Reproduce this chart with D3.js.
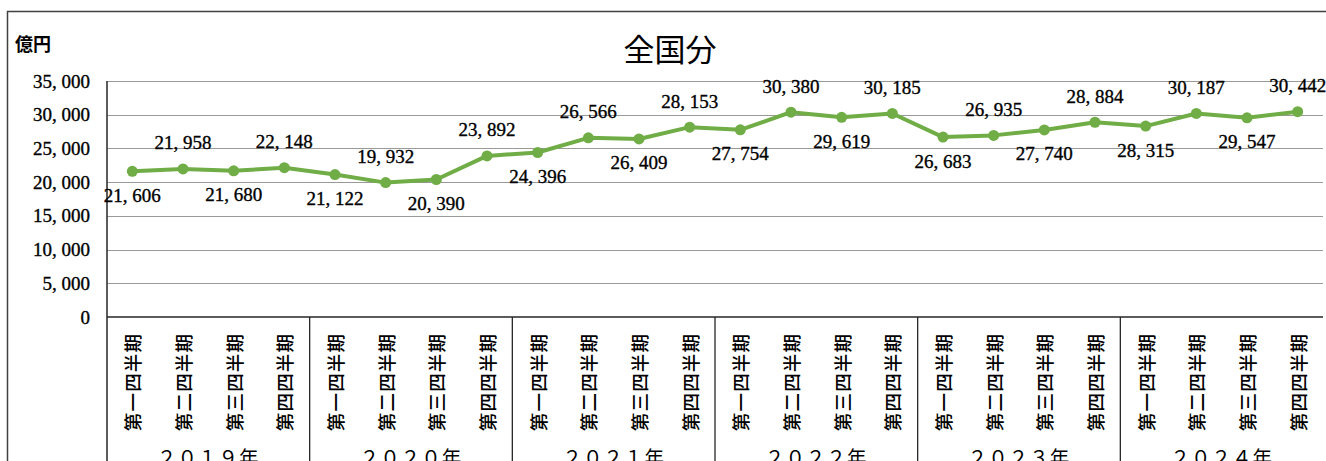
<!DOCTYPE html>
<html lang="ja">
<head>
<meta charset="utf-8">
<title>全国分</title>
<script src="https://d3js.org/d3.v7.min.js"></script>
<style>
  html, body { margin: 0; padding: 0; background: #fff; }
  svg { display: block; }
  .num { font-family: "Liberation Serif", "DejaVu Serif", serif; font-size: 19px; fill: #000; stroke: #000; stroke-width: 0.35px; }
  .jp { font-family: "Noto Sans CJK JP", sans-serif; fill: #000; }
</style>
</head>
<body>
<script>
// data
const years = ["２０１９年", "２０２０年", "２０２１年", "２０２２年", "２０２３年", "２０２４年"];
const quarters = ["第一四半期", "第二四半期", "第三四半期", "第四四半期"];
const values = [21606, 21958, 21680, 22148,
                21122, 19932, 20390, 23892,
                24396, 26566, 26409, 28153,
                27754, 30380, 29619, 30185,
                26683, 26935, 27740, 28884,
                28315, 30187, 29547, 30442];
const yTicks = [0, 5000, 10000, 15000, 20000, 25000, 30000, 35000];

const W = 1326, H = 461;
const plotL = 107, plotR = 1323, plotT = 81, plotB = 317;
const green = "#70ad47";

const svg = d3.select("body").append("svg").attr("width", W).attr("height", H);

// outer chart border
svg.append("rect")
  .attr("x", 7.5).attr("y", 11.5)
  .attr("width", W + 10).attr("height", H + 10)
  .attr("fill", "none").attr("stroke", "#404040").attr("stroke-width", 1.5);

const keys = values.map((d, i) => i);
const x = d3.scaleBand().domain(keys).range([plotL, plotR]).padding(0);
const y = d3.scaleLinear().domain([0, 35000]).range([plotB, plotT]);
const fmt = v => d3.format(",")(v).replace(",", ", ");

// gridlines
svg.append("g").selectAll("line")
  .data(yTicks.filter(t => t > 0))
  .join("line")
  .attr("x1", plotL).attr("x2", plotR)
  .attr("y1", d => Math.round(y(d)) + 0.5).attr("y2", d => Math.round(y(d)) + 0.5)
  .attr("stroke", "#999999").attr("stroke-width", 1.2);

// y tick labels
svg.append("g").selectAll("text")
  .data(yTicks)
  .join("text")
  .attr("class", "num")
  .attr("x", 90).attr("y", d => y(d))
  .attr("text-anchor", "end").attr("dominant-baseline", "central")
  .text(d => d === 0 ? "0" : fmt(d));

// axes lines
svg.append("line")
  .attr("x1", plotL).attr("x2", plotR)
  .attr("y1", plotB).attr("y2", plotB)
  .attr("stroke", "#262626").attr("stroke-width", 1.5);
svg.append("line")
  .attr("x1", plotL).attr("x2", plotL)
  .attr("y1", plotT).attr("y2", H)
  .attr("stroke", "#262626").attr("stroke-width", 1.5);

// year separators
const yearW = x.bandwidth() * quarters.length;
svg.append("g").selectAll("line")
  .data(years.slice(1))
  .join("line")
  .attr("x1", (d, i) => plotL + (i + 1) * yearW).attr("x2", (d, i) => plotL + (i + 1) * yearW)
  .attr("y1", plotB).attr("y2", H)
  .attr("stroke", "#262626").attr("stroke-width", 1.3);

// quarter labels (rotated)
svg.append("g").selectAll("text")
  .data(keys)
  .join("text")
  .attr("class", "jp")
  .attr("font-size", 18.5)
  .attr("font-weight", 500)
  .attr("letter-spacing", 1.2)
  .attr("text-anchor", "middle")
  .attr("dominant-baseline", "central")
  .attr("transform", d => `translate(${x(d) + x.bandwidth() / 2},382) rotate(-90)`)
  .text(d => quarters[d % 4]);

// year labels (cut by the bottom edge, as in the source)
svg.append("g").selectAll("text")
  .data(years)
  .join("text")
  .attr("class", "jp")
  .attr("font-size", 19.5)
  .attr("letter-spacing", 1)
  .attr("text-anchor", "middle")
  .attr("x", (d, i) => plotL + (i + 0.5) * yearW)
  .attr("y", 465)
  .text(d => d);

// line
const line = d3.line().x(d => x(d) + x.bandwidth() / 2).y(d => y(values[d]));
svg.append("path")
  .datum(keys)
  .attr("d", line)
  .attr("fill", "none").attr("stroke", green)
  .attr("stroke-width", 4).attr("stroke-linejoin", "round");

svg.append("g").selectAll("circle")
  .data(keys)
  .join("circle")
  .attr("cx", d => x(d) + x.bandwidth() / 2)
  .attr("cy", d => y(values[d]))
  .attr("r", 5.5)
  .attr("fill", green);

// data labels, alternating below / above
svg.append("g").selectAll("text")
  .data(keys)
  .join("text")
  .attr("class", "num")
  .attr("x", d => x(d) + x.bandwidth() / 2)
  .attr("y", d => y(values[d]) + (d % 2 === 0 ? 24 : -26))
  .attr("text-anchor", "middle").attr("dominant-baseline", "central")
  .text(d => fmt(values[d]));

// title and unit
svg.append("text")
  .attr("class", "jp")
  .attr("x", 670).attr("y", 47)
  .attr("font-size", 31)
  .attr("text-anchor", "middle").attr("dominant-baseline", "central")
  .text("全国分");

svg.append("text")
  .attr("class", "jp")
  .attr("x", 15).attr("y", 43)
  .attr("font-size", 18).attr("font-weight", 700)
  .attr("dominant-baseline", "central")
  .text("億円");
</script>
</body>
</html>
